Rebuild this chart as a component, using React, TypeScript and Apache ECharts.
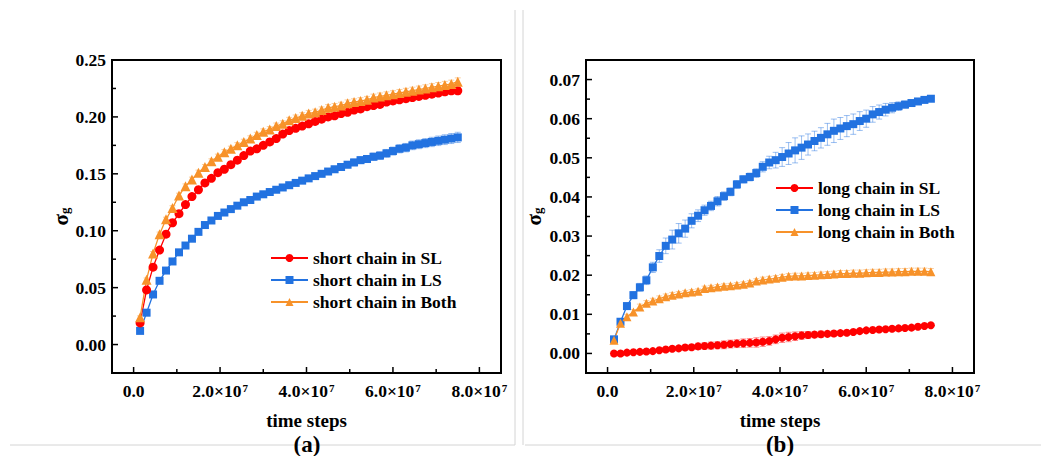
import React, { useEffect, useRef } from "react";
import * as echarts from "echarts";

// ---------- data ----------
const timeSteps = [
  1.5e6, 3.0e6, 4.5e6, 6.0e6, 7.5e6, 9.0e6, 1.05e7, 1.2e7, 1.35e7, 1.5e7,
  1.65e7, 1.8e7, 1.95e7, 2.1e7, 2.25e7, 2.4e7, 2.55e7, 2.7e7, 2.85e7, 3.0e7,
  3.15e7, 3.3e7, 3.45e7, 3.6e7, 3.75e7, 3.9e7, 4.05e7, 4.2e7, 4.35e7, 4.5e7,
  4.65e7, 4.8e7, 4.95e7, 5.1e7, 5.25e7, 5.4e7, 5.55e7, 5.7e7, 5.85e7, 6.0e7,
  6.15e7, 6.3e7, 6.45e7, 6.6e7, 6.75e7, 6.9e7, 7.05e7, 7.2e7, 7.35e7, 7.5e7,
];

// (a) short chain
const shortSL = [
  0.019, 0.048, 0.068, 0.083, 0.097, 0.107, 0.115, 0.123, 0.130, 0.136,
  0.142, 0.146, 0.151, 0.154, 0.158, 0.162, 0.166, 0.170, 0.172, 0.175,
  0.178, 0.181, 0.185, 0.188, 0.190, 0.192, 0.194, 0.196, 0.198, 0.200,
  0.201, 0.203, 0.204, 0.206, 0.207, 0.209, 0.210, 0.211, 0.213, 0.214,
  0.215, 0.216, 0.217, 0.218, 0.219, 0.220, 0.221, 0.222, 0.223, 0.223,
];
const shortSLErr = [
  0.0010, 0.0012, 0.0014, 0.0015, 0.0016, 0.0016, 0.0017, 0.0017, 0.0018, 0.0018,
  0.0018, 0.0019, 0.0019, 0.0019, 0.0020, 0.0020, 0.0020, 0.0020, 0.0021, 0.0021,
  0.0021, 0.0021, 0.0022, 0.0022, 0.0022, 0.0022, 0.0023, 0.0023, 0.0023, 0.0023,
  0.0024, 0.0024, 0.0024, 0.0024, 0.0025, 0.0025, 0.0025, 0.0026, 0.0026, 0.0026,
  0.0027, 0.0027, 0.0028, 0.0028, 0.0029, 0.0029, 0.0030, 0.0030, 0.0031, 0.0031,
];
const shortLS = [
  0.012, 0.028, 0.044, 0.056, 0.065, 0.073, 0.081, 0.087, 0.093, 0.099,
  0.105, 0.109, 0.113, 0.116, 0.119, 0.122, 0.125, 0.127, 0.130, 0.132,
  0.134, 0.136, 0.138, 0.140, 0.142, 0.144, 0.146, 0.148, 0.150, 0.152,
  0.154, 0.156, 0.158, 0.160, 0.162, 0.163, 0.165, 0.166, 0.168, 0.170,
  0.172, 0.173, 0.175, 0.176, 0.177, 0.178, 0.179, 0.180, 0.181, 0.182,
];
const shortLSErr = [
  0.0008, 0.0010, 0.0011, 0.0012, 0.0012, 0.0013, 0.0013, 0.0014, 0.0014, 0.0015,
  0.0015, 0.0016, 0.0016, 0.0017, 0.0017, 0.0018, 0.0018, 0.0019, 0.0019, 0.0020,
  0.0020, 0.0021, 0.0021, 0.0022, 0.0022, 0.0023, 0.0023, 0.0024, 0.0024, 0.0025,
  0.0026, 0.0027, 0.0028, 0.0029, 0.0030, 0.0031, 0.0032, 0.0033, 0.0034, 0.0035,
  0.0036, 0.0037, 0.0038, 0.0039, 0.0040, 0.0041, 0.0042, 0.0043, 0.0044, 0.0045,
];
const shortBoth = [
  0.024, 0.057, 0.080, 0.097, 0.110, 0.120, 0.131, 0.139, 0.145, 0.151,
  0.156, 0.161, 0.165, 0.169, 0.172, 0.175, 0.178, 0.181, 0.184, 0.187,
  0.189, 0.192, 0.194, 0.197, 0.199, 0.201, 0.203, 0.204, 0.206, 0.208,
  0.209, 0.210, 0.212, 0.213, 0.214, 0.215, 0.217, 0.218, 0.219, 0.220,
  0.221, 0.222, 0.223, 0.224, 0.225, 0.226, 0.227, 0.228, 0.229, 0.231,
];
const shortBothErr = [
  0.0012, 0.0015, 0.0017, 0.0018, 0.0019, 0.0020, 0.0020, 0.0021, 0.0021, 0.0022,
  0.0022, 0.0022, 0.0023, 0.0023, 0.0023, 0.0024, 0.0024, 0.0024, 0.0025, 0.0025,
  0.0025, 0.0026, 0.0026, 0.0026, 0.0027, 0.0027, 0.0027, 0.0028, 0.0028, 0.0028,
  0.0028, 0.0029, 0.0029, 0.0029, 0.0029, 0.0030, 0.0030, 0.0030, 0.0030, 0.0030,
  0.0031, 0.0031, 0.0031, 0.0031, 0.0032, 0.0032, 0.0032, 0.0032, 0.0033, 0.0033,
];

// (b) long chain
const longSL = [
  0.0000, 0.0000, 0.0002, 0.0003, 0.0004, 0.0005, 0.0006, 0.0008, 0.0010, 0.0012,
  0.0013, 0.0015, 0.0016, 0.0018, 0.0019, 0.0020, 0.0021, 0.0022, 0.0024, 0.0025,
  0.0026, 0.0027, 0.0028, 0.0030, 0.0032, 0.0036, 0.0040, 0.0042, 0.0044, 0.0046,
  0.0047, 0.0048, 0.0049, 0.0050, 0.0051, 0.0052, 0.0053, 0.0055, 0.0057, 0.0059,
  0.0060, 0.0061, 0.0062, 0.0063, 0.0064, 0.0065, 0.0066, 0.0068, 0.0070, 0.0072,
];
const longSLErr = [
  0.0002, 0.0002, 0.0002, 0.0003, 0.0003, 0.0003, 0.0004, 0.0004, 0.0005, 0.0005,
  0.0006, 0.0006, 0.0007, 0.0008, 0.0008, 0.0009, 0.0009, 0.0010, 0.0010, 0.0010,
  0.0011, 0.0011, 0.0012, 0.0012, 0.0011, 0.0011, 0.0012, 0.0012, 0.0011, 0.0010,
  0.0009, 0.0008, 0.0008, 0.0007, 0.0006, 0.0006, 0.0005, 0.0005, 0.0005, 0.0004,
  0.0004, 0.0004, 0.0004, 0.0004, 0.0003, 0.0003, 0.0003, 0.0003, 0.0003, 0.0003,
];
const longLS = [
  0.0036, 0.0081, 0.0121, 0.0149, 0.0169, 0.0187, 0.0220, 0.0249, 0.0275, 0.0291,
  0.0307, 0.0319, 0.0339, 0.0352, 0.0366, 0.0377, 0.0389, 0.0402, 0.0413, 0.0432,
  0.0445, 0.0451, 0.0461, 0.0477, 0.0488, 0.0494, 0.0502, 0.0511, 0.0519, 0.0526,
  0.0534, 0.0543, 0.0551, 0.0560, 0.0569, 0.0575, 0.0581, 0.0586, 0.0594, 0.0600,
  0.0611, 0.0617, 0.0623, 0.0628, 0.0632, 0.0636, 0.0640, 0.0644, 0.0648, 0.0651,
];
const longLSErr = [
  0.0004, 0.0006, 0.0008, 0.0009, 0.0010, 0.0011, 0.0013, 0.0016, 0.0020, 0.0024,
  0.0025, 0.0022, 0.0018, 0.0015, 0.0013, 0.0012, 0.0012, 0.0011, 0.0010, 0.0010,
  0.0009, 0.0010, 0.0011, 0.0013, 0.0016, 0.0020, 0.0024, 0.0028, 0.0032, 0.0030,
  0.0027, 0.0025, 0.0026, 0.0028, 0.0030, 0.0028, 0.0027, 0.0026, 0.0024, 0.0022,
  0.0020, 0.0018, 0.0016, 0.0013, 0.0011, 0.0009, 0.0008, 0.0007, 0.0006, 0.0005,
];
const longBoth = [
  0.0034, 0.0077, 0.0094, 0.0106, 0.0119, 0.0128, 0.0134, 0.0140, 0.0145, 0.0149,
  0.0152, 0.0155, 0.0157, 0.0159, 0.0166, 0.0168, 0.0170, 0.0172, 0.0173, 0.0175,
  0.0177, 0.0180, 0.0185, 0.0188, 0.0190, 0.0192, 0.0195, 0.0197, 0.0198, 0.0198,
  0.0199, 0.0200, 0.0201, 0.0202, 0.0203, 0.0204, 0.0204, 0.0205, 0.0205, 0.0206,
  0.0207, 0.0207, 0.0208, 0.0208, 0.0209, 0.0209, 0.0210, 0.0210, 0.0210, 0.0209,
];
const longBothErr = [
  0.0003, 0.0005, 0.0006, 0.0006, 0.0007, 0.0007, 0.0007, 0.0007, 0.0007, 0.0007,
  0.0006, 0.0006, 0.0006, 0.0006, 0.0006, 0.0006, 0.0006, 0.0006, 0.0006, 0.0006,
  0.0006, 0.0006, 0.0006, 0.0007, 0.0007, 0.0007, 0.0007, 0.0007, 0.0007, 0.0007,
  0.0007, 0.0007, 0.0007, 0.0007, 0.0007, 0.0008, 0.0008, 0.0008, 0.0008, 0.0008,
  0.0008, 0.0008, 0.0008, 0.0008, 0.0008, 0.0008, 0.0008, 0.0008, 0.0008, 0.0008,
];

const xMajorTicks = [0, 2e7, 4e7, 6e7, 8e7];
const xMinorTicks = [1e7, 3e7, 5e7, 7e7];
const leftYMajor = [0, 0.05, 0.1, 0.15, 0.2, 0.25];
const leftYMinor = [0.025, 0.075, 0.125, 0.175, 0.225];
const rightYMajor = [0, 0.01, 0.02, 0.03, 0.04, 0.05, 0.06, 0.07];
const rightYMinor = [0.005, 0.015, 0.025, 0.035, 0.045, 0.055, 0.065];

const namesA = ["short chain in SL", "short chain in LS", "short chain in Both"];
const namesB = ["long chain in SL", "long chain in LS", "long chain in Both"];

// ---------- styling ----------
const FONT = '"Liberation Serif", "Times New Roman", serif';
const RED = "#FF0000";
const BLUE = "#2272E0";
const ORANGE = "#F7922A";
const X_MIN = -5e6;
const X_MAX = 8.5e7;
const Y_RANGES = [
  [-0.025, 0.25],
  [-0.005, 0.075],
];
const GRIDS = [
  { left: 112, top: 60, width: 389, height: 313 },
  { left: 586, top: 60, width: 388, height: 313 },
];

const baseText = { fontFamily: FONT, fontWeight: "bold" as const, color: "#000" };

function xLabelFormatter(v: number) {
  if (Math.abs(v) < 1) return "{b|0.0}";
  return `{b|${(v / 1e7).toFixed(1)}×10}{sup|7}`;
}

const xRich = {
  b: { ...baseText, fontSize: 17.5 },
  sup: { ...baseText, fontSize: 11, verticalAlign: "top" as const, padding: [0, 0, 0, 1] },
};

function mainXAxis(gridIndex: number) {
  return {
    type: "value",
    gridIndex,
    min: X_MIN,
    max: X_MAX,
    position: "bottom",
    splitLine: { show: false },
    axisLine: { show: true, onZero: false, lineStyle: { color: "#000", width: 2 } },
    axisTick: { show: false, customValues: xMajorTicks },
    axisLabel: {
      customValues: xMajorTicks,
      formatter: xLabelFormatter,
      rich: xRich,
      margin: 9,
    },
    name: "time steps",
    nameLocation: "middle",
    nameGap: 38,
    nameTextStyle: { ...baseText, fontSize: 19 },
  };
}

function mainYAxis(gridIndex: number, ticks: number[], gap: number) {
  return {
    type: "value",
    gridIndex,
    min: Y_RANGES[gridIndex][0],
    max: Y_RANGES[gridIndex][1],
    position: "left",
    splitLine: { show: false },
    axisLine: { show: true, onZero: false, lineStyle: { color: "#000", width: 2 } },
    axisTick: { show: false, customValues: ticks },
    axisLabel: {
      customValues: ticks,
      formatter: (v: number) => v.toFixed(2),
      ...baseText,
      fontSize: 17.5,
      margin: 6,
    },
    name: "{s|σ}{g|g}",
    nameLocation: "middle",
    nameRotate: 90,
    nameGap: gap,
    nameTextStyle: {
      rich: {
        s: { ...baseText, fontSize: 21 },
        g: { ...baseText, fontSize: 13, verticalAlign: "bottom" as const, padding: [8, 0, 0, 0] },
      },
    },
  };
}

// plot box + inward ticks drawn as filled bars, placed through the axes' scales
// item: [x, y, kind] kind 0 x-major, 1 x-minor, 2 y-major, 3 y-minor, 4 box
function frameSeries(gi: number, yMajor: number[], yMinor: number[]) {
  const yMin = Y_RANGES[gi][0];
  const data = [
    [X_MIN, yMin, 4],
    ...xMajorTicks.map((v) => [v, yMin, 0]),
    ...xMinorTicks.map((v) => [v, yMin, 1]),
    ...yMajor.map((v) => [X_MIN, v, 2]),
    ...yMinor.map((v) => [X_MIN, v, 3]),
  ];
  return {
    type: "custom",
    xAxisIndex: gi,
    yAxisIndex: gi,
    silent: true,
    z: 8,
    clip: false,
    data,
    encode: { x: 0, y: 1 },
    renderItem: (params: any, api: any) => {
      const kind = api.value(2);
      const p = api.coord([api.value(0), api.value(1)]);
      const cs = params.coordSys;
      const fill = { fill: "#000" };
      const t = 2;
      if (kind === 4) {
        return {
          type: "group",
          children: [
            { type: "rect", shape: { x: cs.x - 1, y: cs.y - 1, width: cs.width + 2, height: t }, style: fill },
            { type: "rect", shape: { x: cs.x - 1, y: cs.y + cs.height - 1, width: cs.width + 2, height: t }, style: fill },
            { type: "rect", shape: { x: cs.x - 1, y: cs.y - 1, width: t, height: cs.height + 2 }, style: fill },
            { type: "rect", shape: { x: cs.x + cs.width - 1, y: cs.y - 1, width: t, height: cs.height + 2 }, style: fill },
          ],
        };
      }
      if (kind === 0 || kind === 1) {
        const len = kind === 0 ? 6 : 4;
        const yb = cs.y + cs.height;
        return { type: "rect", shape: { x: p[0] - 0.75, y: yb - len, width: 1.5, height: len }, style: fill };
      }
      const len = kind === 2 ? 6 : 4;
      return { type: "rect", shape: { x: cs.x, y: p[1] - 0.75, width: len, height: 1.5 }, style: fill };
    },
  };
}

function lineSeries(name: string, values: number[], color: string, symbol: string, size: number, xi: number, yi: number) {
  return {
    type: "line",
    name,
    xAxisIndex: xi,
    yAxisIndex: yi,
    data: timeSteps.map((t, i) => [t, values[i]]),
    symbol,
    symbolSize: size,
    showAllSymbol: true,
    itemStyle: { color },
    lineStyle: { color, width: 1.3 },
    z: 3,
  };
}

function errorSeries(values: number[], errs: number[], color: string, xi: number, yi: number) {
  return {
    type: "custom",
    xAxisIndex: xi,
    yAxisIndex: yi,
    silent: true,
    z: 2,
    data: timeSteps.map((t, i) => [t, values[i] - errs[i], values[i] + errs[i]]),
    encode: { x: 0, y: [1, 2] },
    renderItem: (_params: any, api: any) => {
      const x = api.value(0);
      const lo = api.coord([x, api.value(1)]);
      const hi = api.coord([x, api.value(2)]);
      const cap = 3;
      const style = { stroke: color, lineWidth: 1, opacity: 0.45 };
      return {
        type: "group",
        children: [
          { type: "line", shape: { x1: lo[0], y1: lo[1], x2: hi[0], y2: hi[1] }, style },
          { type: "line", shape: { x1: lo[0] - cap, y1: lo[1], x2: lo[0] + cap, y2: lo[1] }, style },
          { type: "line", shape: { x1: hi[0] - cap, y1: hi[1], x2: hi[0] + cap, y2: hi[1] }, style },
        ],
      };
    },
  };
}

function legendFor(names: string[], left: number, top: number) {
  return {
    data: names,
    orient: "vertical",
    left,
    top,
    itemWidth: 37,
    itemHeight: 10,
    itemGap: 4,
    selectedMode: false,
    textStyle: { ...baseText, fontSize: 17.5, lineHeight: 18 },
  };
}

const frameStyle = { stroke: "#d4d4d4", lineWidth: 1 };

export default function App() {
  const ref = useRef<HTMLDivElement>(null);

  useEffect(() => {
    if (!ref.current) return;
    const chart = echarts.init(ref.current, undefined, { renderer: "svg" });
    const option: any = {
      animation: false,
      backgroundColor: "#fff",
      grid: GRIDS.map((g) => ({ ...g, show: true, borderColor: "#000", borderWidth: 2 })),
      xAxis: [mainXAxis(0), mainXAxis(1)],
      yAxis: [mainYAxis(0, leftYMajor, 41), mainYAxis(1, rightYMajor, 42)],
      legend: [legendFor(namesA, 265, 244), legendFor(namesB, 770, 174)],
      series: [
        errorSeries(shortLS, shortLSErr, BLUE, 0, 0),
        errorSeries(shortSL, shortSLErr, RED, 0, 0),
        errorSeries(shortBoth, shortBothErr, ORANGE, 0, 0),
        lineSeries(namesA[1], shortLS, BLUE, "rect", 8, 0, 0),
        lineSeries(namesA[0], shortSL, RED, "circle", 9, 0, 0),
        lineSeries(namesA[2], shortBoth, ORANGE, "triangle", 10, 0, 0),
        errorSeries(longLS, longLSErr, BLUE, 1, 1),
        errorSeries(longSL, longSLErr, RED, 1, 1),
        errorSeries(longBoth, longBothErr, ORANGE, 1, 1),
        lineSeries(namesB[1], longLS, BLUE, "rect", 8, 1, 1),
        lineSeries(namesB[0], longSL, RED, "circle", 8, 1, 1),
        lineSeries(namesB[2], longBoth, ORANGE, "triangle", 9, 1, 1),
        frameSeries(0, leftYMajor, leftYMinor),
        frameSeries(1, rightYMajor, rightYMinor),
      ],
      graphic: [
        { type: "line", shape: { x1: 515, y1: 10, x2: 515, y2: 445 }, style: frameStyle, z: 0 },
        { type: "line", shape: { x1: 10, y1: 445, x2: 515, y2: 445 }, style: frameStyle, z: 0 },
        { type: "line", shape: { x1: 523, y1: 10, x2: 523, y2: 445 }, style: frameStyle, z: 0 },
        { type: "line", shape: { x1: 525, y1: 445, x2: 1041, y2: 445 }, style: frameStyle, z: 0 },
        {
          type: "text",
          x: 307,
          y: 444,
          z: 10,
          style: { text: "(a)", fill: "#000", font: `bold 23px ${FONT}`, textAlign: "center", textVerticalAlign: "middle" },
        },
        {
          type: "text",
          x: 780,
          y: 444,
          z: 10,
          style: { text: "(b)", fill: "#000", font: `bold 23px ${FONT}`, textAlign: "center", textVerticalAlign: "middle" },
        },
      ],
    };
    chart.setOption(option);
    return () => chart.dispose();
  }, []);

  return (
    <div
      ref={ref}
      style={{ position: "fixed", left: 0, top: 0, width: 1041, height: 456, background: "#fff" }}
    />
  );
}
